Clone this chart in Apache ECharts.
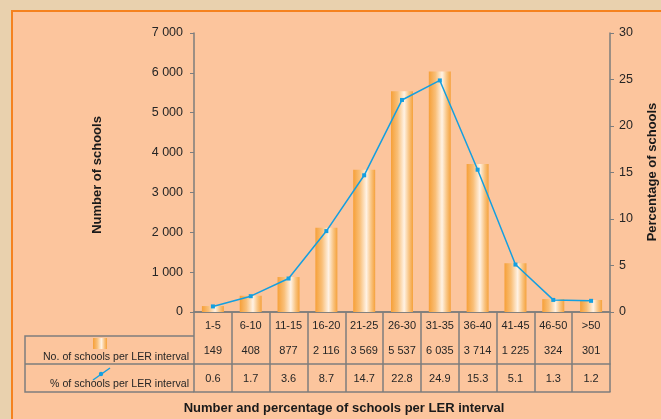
<!DOCTYPE html>
<html>
<head>
<meta charset="utf-8">
<script src="https://cdn.jsdelivr.net/npm/echarts@6/dist/echarts.min.js"></script>
<style>
  html, body { margin: 0; padding: 0; background: #e9d1ae; }
  #bg { position: absolute; left: 11px; top: 10px; width: 700px; height: 460px;
        background: #fcc59d; border-left: 2px solid #f5821f; border-top: 2px solid #f5821f; box-sizing: border-box; }
  #chart { position: absolute; left: 0; top: 0; width: 661px; height: 419px; }
</style>
</head>
<body>
<div id="bg"></div>
<div id="chart"></div>
<script>
const categories = ['1-5', '6-10', '11-15', '16-20', '21-25', '26-30', '31-35', '36-40', '41-45', '46-50', '>50'];
const schoolCounts = [149, 408, 877, 2116, 3569, 5537, 6035, 3714, 1225, 324, 301];
const schoolPercents = [0.6, 1.7, 3.6, 8.7, 14.7, 22.8, 24.9, 15.3, 5.1, 1.3, 1.2];
const countAxis = { min: 0, max: 7000, interval: 1000 };
const percentAxis = { min: 0, max: 30, interval: 5 };
const rowLabels = ['No. of schools per LER interval', '% of schools per LER interval'];
const chartTitle = 'Number and percentage of schools per LER interval';
const leftAxisName = 'Number of schools';
const rightAxisName = 'Percentage of schools';

function fmt(n) { return String(n).replace(/\B(?=(\d{3})+(?!\d))/g, ' '); }

const FONT = 'Liberation Sans, Arial, sans-serif';
const GRID = { left: 194, right: 51, top: 33, bottom: 107 };
const TXT = '#262626';
const LINE = '#7d7d7d';
const barGrad = new echarts.graphic.LinearGradient(0, 0, 1, 0, [
  { offset: 0, color: '#f6a038' },
  { offset: 0.3, color: '#f9bf78' },
  { offset: 0.6, color: '#fff2e4' },
  { offset: 0.82, color: '#f9c380' },
  { offset: 1, color: '#f5a23c' }
]);
const blue = '#149fe0';

const chart = echarts.init(document.getElementById('chart'), null, { renderer: 'canvas' });

const H = 419, W = 661;
const axisY = H - GRID.bottom;          // 312
const rowTop1 = axisY + 24, rowTop2 = axisY + 52, rowBot = axisY + 80;
const tableLeft = 25;
const gx = GRID.left;

const option = {
  backgroundColor: 'transparent',
  animation: false,
  textStyle: { fontFamily: FONT },
  grid: GRID,
  xAxis: [
    {
      type: 'category', data: categories, position: 'bottom', offset: 0,
      axisLine: { show: true, lineStyle: { color: LINE, width: 1.5 } },
      axisTick: { show: true, interval: 0, length: 80, alignWithLabel: false, lineStyle: { color: LINE, width: 1.5 } },
      axisLabel: { interval: 0, margin: 8, fontSize: 11, color: TXT, fontFamily: FONT }
    },
    {
      type: 'category', data: categories, position: 'bottom', offset: 24,
      axisLine: { show: true, lineStyle: { color: LINE, width: 1.5 } },
      axisTick: { show: false },
      axisLabel: { interval: 0, margin: 9, fontSize: 11, color: TXT, fontFamily: FONT,
        formatter: (v, i) => fmt(schoolCounts[i]) }
    },
    {
      type: 'category', data: categories, position: 'bottom', offset: 52,
      axisLine: { show: true, lineStyle: { color: LINE, width: 1.5 } },
      axisTick: { show: false },
      axisLabel: { interval: 0, margin: 9, fontSize: 11, color: TXT, fontFamily: FONT,
        formatter: (v, i) => String(schoolPercents[i]) }
    },
    {
      type: 'category', data: categories, position: 'bottom', offset: 80,
      axisLine: { show: true, lineStyle: { color: LINE, width: 1.5 } },
      axisTick: { show: false },
      axisLabel: { show: false }
    }
  ],
  yAxis: [
    {
      type: 'value', min: countAxis.min, max: countAxis.max, interval: countAxis.interval,
      axisLine: { show: true, lineStyle: { color: LINE, width: 1.5 } },
      axisTick: { show: true, length: 4, lineStyle: { color: LINE } },
      splitLine: { show: false },
      axisLabel: { margin: 11, fontSize: 12.5, color: TXT, fontFamily: FONT, formatter: v => fmt(v) }
    },
    {
      type: 'value', min: percentAxis.min, max: percentAxis.max, interval: percentAxis.interval,
      position: 'right',
      axisLine: { show: true, lineStyle: { color: LINE, width: 1.5 } },
      axisTick: { show: true, length: 4, lineStyle: { color: LINE } },
      splitLine: { show: false },
      axisLabel: { margin: 9, fontSize: 12.5, color: TXT, fontFamily: FONT }
    }
  ],
  series: [
    {
      type: 'bar', data: schoolCounts, xAxisIndex: 0, yAxisIndex: 0,
      barWidth: 22, itemStyle: { color: barGrad }, z: 2
    },
    {
      type: 'line', data: schoolPercents, xAxisIndex: 0, yAxisIndex: 1,
      symbol: 'rect', symbolSize: 4, showSymbol: true,
      lineStyle: { color: blue, width: 1.5 }, itemStyle: { color: blue }, z: 3
    }
  ],
  graphic: [
    { type: 'polyline', shape: { points: [[gx, rowTop1], [tableLeft, rowTop1], [tableLeft, rowBot], [gx, rowBot]] },
      style: { stroke: LINE, lineWidth: 1.5, fill: null } },
    { type: 'line', shape: { x1: tableLeft, y1: rowTop2, x2: gx, y2: rowTop2 }, style: { stroke: LINE, lineWidth: 1.5 } },
    { type: 'text', x: gx - 5, y: rowTop1 + 21, style: { text: rowLabels[0], align: 'right', verticalAlign: 'middle',
      font: '10.6px ' + FONT, fill: TXT } },
    { type: 'text', x: gx - 5, y: rowTop2 + 20, style: { text: rowLabels[1], align: 'right', verticalAlign: 'middle',
      font: '10.6px ' + FONT, fill: TXT } },
    { type: 'rect', shape: { x: 93, y: 338, width: 14, height: 11 }, style: { fill: barGrad } },
    { type: 'line', shape: { x1: 93, y1: 380, x2: 110, y2: 368 }, style: { stroke: blue, lineWidth: 1.5 } },
    { type: 'circle', shape: { cx: 101, cy: 374, r: 2.2 }, style: { fill: blue } },
    { type: 'text', x: 97, y: 175, rotation: Math.PI / 2, style: { text: leftAxisName, align: 'center', verticalAlign: 'middle',
      font: 'bold 13px ' + FONT, fill: '#1a1a1a' } },
    { type: 'text', x: 652, y: 172, rotation: Math.PI / 2, style: { text: rightAxisName, align: 'center', verticalAlign: 'middle',
      font: 'bold 13px ' + FONT, fill: '#1a1a1a' } },
    { type: 'text', x: 344, y: 408, style: { text: chartTitle, align: 'center', verticalAlign: 'middle',
      font: 'bold 13px ' + FONT, fill: '#1a1a1a' } }
  ]
};
chart.setOption(option);
</script>
</body>
</html>
